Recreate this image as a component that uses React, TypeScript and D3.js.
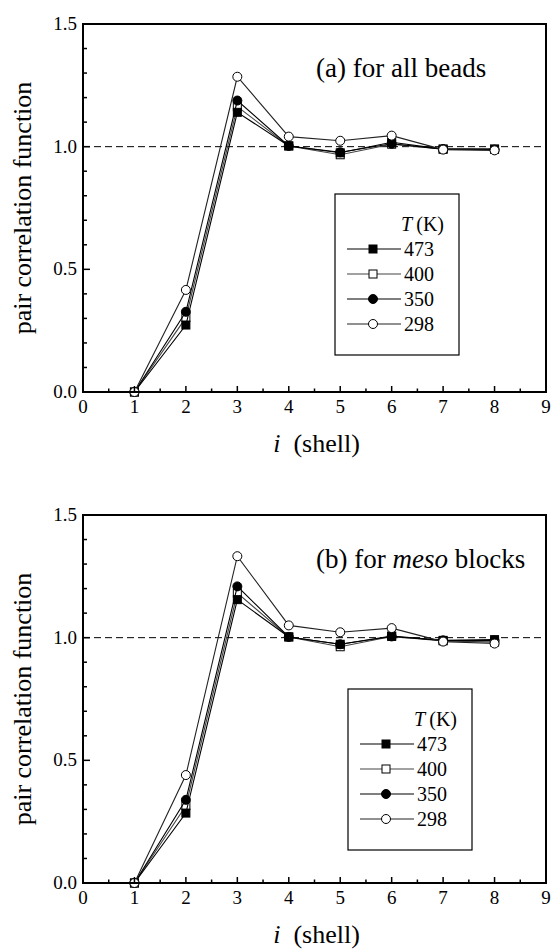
import React from "react";
import * as d3 from "d3";

const shells = [1, 2, 3, 4, 5, 6, 7, 8];
const temps = ["473", "400", "350", "298"];

// panel (a): for all beads
const g473a = [0, 0.273, 1.14, 1.003, 0.975, 1.018, 0.99, 0.99];
const g400a = [0, 0.303, 1.163, 1.003, 0.967, 1.01, 0.99, 0.99];
const g350a = [0, 0.327, 1.188, 1.003, 0.977, 1.012, 0.99, 0.988];
const g298a = [0, 0.416, 1.285, 1.041, 1.024, 1.045, 0.988, 0.985];

// panel (b): for meso blocks
const g473b = [0, 0.285, 1.155, 1.003, 0.973, 1.007, 0.989, 0.992];
const g400b = [0, 0.315, 1.182, 1.003, 0.963, 1.005, 0.987, 0.982];
const g350b = [0, 0.339, 1.209, 1.003, 0.973, 1.005, 0.989, 0.988];
const g298b = [0, 0.44, 1.332, 1.05, 1.022, 1.039, 0.984, 0.976];

const xTicks = [0, 1, 2, 3, 4, 5, 6, 7, 8, 9];
const yTicks = [0, 0.5, 1.0, 1.5];

const FONT = "Liberation Serif";

type Style = { marker: "square" | "circle"; filled: boolean; stroke: string };
const styles: Record<string, Style> = {
  "473": { marker: "square", filled: true, stroke: "#000" },
  "400": { marker: "square", filled: false, stroke: "#444" },
  "350": { marker: "circle", filled: true, stroke: "#000" },
  "298": { marker: "circle", filled: false, stroke: "#222" },
};
const drawOrder = ["400", "350", "473", "298"];

function Marker({ cx, cy, st }: { cx: number; cy: number; st: Style }) {
  const fill = st.filled ? "#000" : "#fff";
  if (st.marker === "square") {
    return <rect x={cx - 4} y={cy - 4} width={8} height={8} fill={fill} stroke="#000" strokeWidth={1} />;
  }
  return <circle cx={cx} cy={cy} r={4.5} fill={fill} stroke="#000" strokeWidth={1} />;
}

function Panel({
  top,
  series,
  label,
  legendPos,
}: {
  top: number;
  series: Record<string, number[]>;
  label: React.ReactNode;
  legendPos: [number, number];
}) {
  const left = 83;
  const right = 546;
  const bottom = top + 368;
  const x = d3.scaleLinear().domain([0, 9]).range([left, right]);
  const y = d3.scaleLinear().domain([0, 1.5]).range([bottom, top]);
  const line = d3
    .line<number>()
    .x((_, i) => x(shells[i]))
    .y((d) => y(d));
  const xMinor = d3.range(0.5, 9, 1);
  const yMinor = d3.range(1, 15).filter((k) => k % 5 !== 0).map((k) => k / 10);
  const [lx, ly] = legendPos;
  return (
    <g>
      <line x1={left} x2={right} y1={y(1)} y2={y(1)} stroke="#000" strokeWidth={1} strokeDasharray="7,4" />
      {drawOrder.map((t) => (
        <g key={t}>
          <path d={line(series[t]) || ""} fill="none" stroke={styles[t].stroke} strokeWidth={1.1} />
          {series[t].map((v, i) => (
            <Marker key={i} cx={x(shells[i])} cy={y(v)} st={styles[t]} />
          ))}
        </g>
      ))}
      <rect x={left} y={top} width={right - left} height={bottom - top} fill="none" stroke="#000" strokeWidth={2} />
      {xTicks.map((t) => (
        <g key={"xt" + t}>
          <line x1={x(t)} x2={x(t)} y1={bottom} y2={bottom - 6} stroke="#000" strokeWidth={1.5} />
          <text x={x(t)} y={bottom + 21} textAnchor="middle" fontFamily={FONT} fontSize={19}>
            {t}
          </text>
        </g>
      ))}
      {xMinor.map((t) => (
        <line key={"xm" + t} x1={x(t)} x2={x(t)} y1={bottom} y2={bottom - 3.5} stroke="#000" strokeWidth={1.5} />
      ))}
      {yTicks.map((t) => (
        <g key={"yt" + t}>
          <line x1={left} x2={left + 7} y1={y(t)} y2={y(t)} stroke="#000" strokeWidth={1.5} />
          <text x={left - 6} y={y(t) + 6} textAnchor="end" fontFamily={FONT} fontSize={19}>
            {d3.format(".1f")(t)}
          </text>
        </g>
      ))}
      {yMinor.map((t) => (
        <line key={"ym" + t} x1={left} x2={left + 4} y1={y(t)} y2={y(t)} stroke="#000" strokeWidth={1.5} />
      ))}
      <text
        transform={`translate(31, ${(top + bottom) / 2}) rotate(-90)`}
        textAnchor="middle"
        fontFamily={FONT}
        fontSize={26}
      >
        pair correlation function
      </text>
      <text x={(left + right) / 2 + 2} y={bottom + 60} textAnchor="middle" fontFamily={FONT} fontSize={26}>
        <tspan fontStyle="italic">i</tspan>
        <tspan>{"\u00a0 (shell)"}</tspan>
      </text>
      <text x={316} y={top + 53} fontFamily={FONT} fontSize={27}>
        {label}
      </text>
      <g transform={`translate(${lx}, ${ly})`}>
        <rect x={0} y={0} width={124} height={161} fill="#fff" stroke="#000" strokeWidth={1.2} />
        <text x={109} y={37} textAnchor="end" fontFamily={FONT} fontSize={20}>
          <tspan fontStyle="italic">T</tspan>
          <tspan>{"\u2009(K)"}</tspan>
        </text>
        {temps.map((t, i) => {
          const cy = 55 + i * 25;
          return (
            <g key={"lg" + t}>
              <line x1={12} x2={66} y1={cy} y2={cy} stroke={styles[t].stroke} strokeWidth={1.1} />
              <Marker cx={38} cy={cy} st={styles[t]} />
              <text x={69} y={cy + 7} fontFamily={FONT} fontSize={20}>
                {t}
              </text>
            </g>
          );
        })}
      </g>
    </g>
  );
}

export default function App() {
  const seriesA: Record<string, number[]> = { "473": g473a, "400": g400a, "350": g350a, "298": g298a };
  const seriesB: Record<string, number[]> = { "473": g473b, "400": g400b, "350": g350b, "298": g298b };
  return (
    <svg width={552} height={952} style={{ position: "absolute", left: 0, top: 0, background: "#fff" }}>
      <rect width={552} height={952} fill="#fff" />
      <Panel top={24} series={seriesA} label={<tspan>(a) for all beads</tspan>} legendPos={[335, 194]} />
      <Panel
        top={515}
        series={seriesB}
        label={
          <>
            <tspan>(b) for </tspan>
            <tspan fontStyle="italic">meso</tspan>
            <tspan> blocks</tspan>
          </>
        }
        legendPos={[348, 689]}
      />
    </svg>
  );
}
